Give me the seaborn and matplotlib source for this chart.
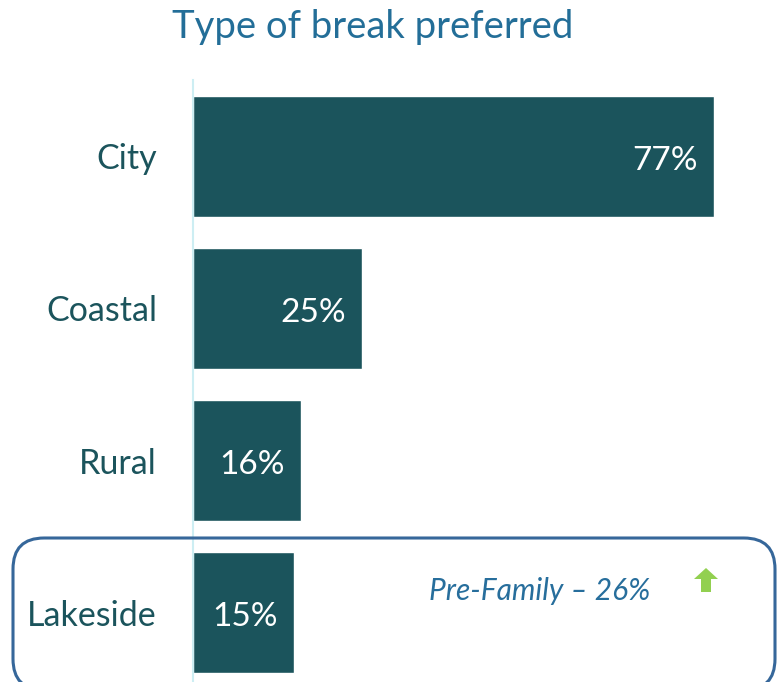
import matplotlib
matplotlib.use("Agg")
import matplotlib.pyplot as plt
import seaborn as sns
import pandas as pd
from matplotlib.patches import FancyBboxPatch, Polygon

categories = ["City", "Coastal", "Rural", "Lakeside"]
values = [77, 25, 16, 15]
title = "Type of break preferred"
note = "Pre-Family \u2013 26%"

sns.set_style("white")
plt.rcParams["font.family"] = ["Lato", "DejaVu Sans"]

W, H = 777, 682
fig = plt.figure(figsize=(W / 100, H / 100), dpi=100)
ax = fig.add_axes([193 / W, 0, (W - 193) / W, (H - 80) / H])

df = pd.DataFrame({"cat": categories, "val": values})
bar_color = "#1b545c"
sns.barplot(data=df, x="val", y="cat", orient="h", color=bar_color, width=0.8,
            saturation=1, ax=ax)

ax.set_xlim(0, (W - 193) / 6.766)
ax.set_ylim(3.457, -0.503)
ax.set_xlabel("")
ax.set_ylabel("")
ax.set_xticks([])
ax.tick_params(axis="y", length=0, pad=26, labelsize=24.5, labelcolor="#1b545c")
for s in ["top", "right", "bottom"]:
    ax.spines[s].set_visible(False)
ax.spines["left"].set_color("#cdeef3")
ax.spines["left"].set_linewidth(1.5)

for i, v in enumerate(values):
    ax.text(v - 2.4, i + 0.03, f"{v}%", ha="right", va="center", color="white", fontsize=24)

fig.text(373 / W, 1 - 27 / H, title, ha="center", va="center", fontsize=27.5, color="#236e98")

# rounded highlight box
box = FancyBboxPatch((13 / W, -8 / H), (762 / W), (152 / H),
                     boxstyle="round,pad=0,rounding_size=0.04",
                     transform=fig.transFigure, fill=False, edgecolor="#36679a",
                     linewidth=2.2, zorder=5, mutation_aspect=W / H)
fig.patches.append(box)

fig.text(540 / W, 1 - 591 / H, note, ha="center", va="center", fontsize=21.5,
         style="italic", color="#276e9c")

pts = [(706, 568), (718, 579), (711, 579), (711, 592), (701, 592), (701, 579), (694, 579)]
arrow = Polygon([(x / W, 1 - y / H) for x, y in pts], closed=True, transform=fig.transFigure,
                facecolor="#92d050", edgecolor="none")
fig.patches.append(arrow)

fig.savefig("out.png", dpi=100)
